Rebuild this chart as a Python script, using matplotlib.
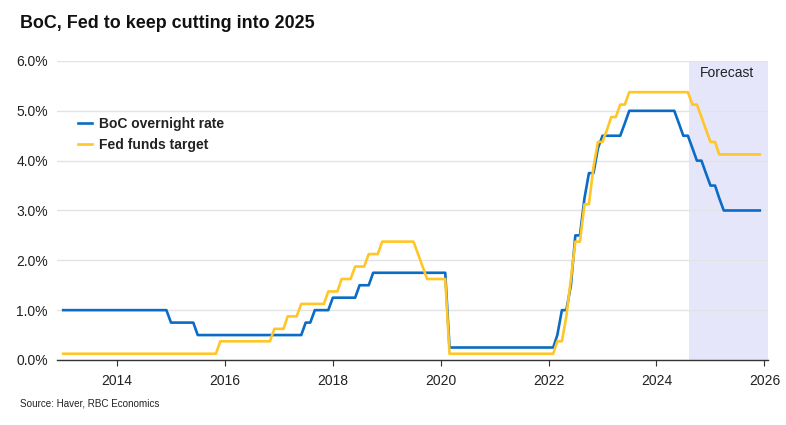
import pandas as pd
import matplotlib.pyplot as plt
import matplotlib.dates as mdates
from matplotlib.ticker import FuncFormatter

plt.rcParams['font.family'] = ['Liberation Sans', 'DejaVu Sans']

# --- dane: miesiąc zmiany stopy i nowy poziom (%) ---
boc_months = ["2013-01", "2015-01", "2015-07", "2017-07", "2017-09", "2018-01",
              "2018-07", "2018-10", "2020-03", "2022-03", "2022-04", "2022-06",
              "2022-07", "2022-09", "2022-10", "2022-12", "2023-01", "2023-06",
              "2023-07", "2024-06", "2024-07", "2024-09", "2024-10", "2024-12",
              "2025-01", "2025-03", "2025-04"]
boc_rates = [1.00, 0.75, 0.50, 0.75, 1.00, 1.25,
             1.50, 1.75, 0.25, 0.50, 1.00, 1.50,
             2.50, 3.25, 3.75, 4.25, 4.50, 4.75,
             5.00, 4.75, 4.50, 4.25, 4.00, 3.75,
             3.50, 3.25, 3.00]

fed_months = ["2013-01", "2015-12", "2016-12", "2017-03", "2017-06", "2017-12",
              "2018-03", "2018-06", "2018-09", "2018-12", "2019-08", "2019-09",
              "2019-10", "2020-03", "2022-03", "2022-05", "2022-06", "2022-07",
              "2022-09", "2022-11", "2022-12", "2023-02", "2023-03", "2023-05",
              "2023-07", "2024-09", "2024-11", "2024-12", "2025-01", "2025-03"]
fed_rates = [0.125, 0.375, 0.625, 0.875, 1.125, 1.375,
             1.625, 1.875, 2.125, 2.375, 2.125, 1.875,
             1.625, 0.125, 0.375, 0.875, 1.625, 2.375,
             3.125, 3.875, 4.375, 4.625, 4.875, 5.125,
             5.375, 5.125, 4.875, 4.625, 4.375, 4.125]

series_start, series_end = "2013-01-01", "2025-12-01"
forecast_start = "2024-08-10"
x_years = [2014, 2016, 2018, 2020, 2022, 2024, 2026]
y_ticks = [0, 1, 2, 3, 4, 5, 6]

BLUE = "#0a6cc4"
YELLOW = "#ffc627"
TXT = "#222222"

# stopy miesięczne (poziom obowiązuje do następnej zmiany)
months = pd.date_range(series_start, series_end, freq="MS")
boc = pd.Series(boc_rates, index=pd.to_datetime(boc_months)).reindex(months).ffill()
fed = pd.Series(fed_rates, index=pd.to_datetime(fed_months)).reindex(months).ffill()

fig = plt.figure(figsize=(7.86, 4.25), dpi=100)
ax = fig.add_axes([0.0725, 0.153, 0.9045, 0.7035])

ax.axvspan(pd.Timestamp(forecast_start), pd.Timestamp("2026-01-25"),
           color="#e6e6fb", lw=0, zorder=0)
ax.text(pd.Timestamp("2025-04-20"), 5.76, "Forecast", ha="center", va="center",
        fontsize=10, color=TXT)

ax.plot(boc.index, boc.values, color=BLUE, lw=1.9, label="BoC overnight rate", zorder=3)
ax.plot(fed.index, fed.values, color=YELLOW, lw=1.9, label="Fed funds target", zorder=4)

ax.set_xlim(pd.Timestamp("2012-11-20"), pd.Timestamp("2026-01-25"))
ax.set_ylim(0, 6)
ax.set_xticks([pd.Timestamp(f"{y}-01-01") for y in x_years])
ax.xaxis.set_major_formatter(mdates.DateFormatter("%Y"))
ax.set_yticks(y_ticks)
ax.yaxis.set_major_formatter(FuncFormatter(lambda v, p: f"{v:.1f}%"))

ax.grid(axis="y", color="#e3e3e3", lw=1)
ax.set_axisbelow(True)
for s in ["top", "right", "left"]:
    ax.spines[s].set_visible(False)
ax.spines["bottom"].set_color("#333333")
ax.spines["bottom"].set_linewidth(1.0)
ax.spines["bottom"].set_zorder(5)
ax.tick_params(axis="x", length=4, color="#333333", labelsize=10, labelcolor=TXT, pad=6)
ax.tick_params(axis="y", length=0, labelsize=10, labelcolor=TXT, pad=6.5)

leg = ax.legend(loc="upper left", bbox_to_anchor=(0.012, 0.855), frameon=False,
                handlelength=1.0, handletextpad=0.5, labelspacing=0.5,
                prop={"weight": "bold", "size": 10})
for t in leg.get_texts():
    t.set_color(TXT)

fig.text(0.025, 0.945, "BoC, Fed to keep cutting into 2025", fontsize=12.9,
         fontweight="bold", color="#111111", va="center")
fig.text(0.025, 0.05, "Source: Haver, RBC Economics", fontsize=7.1,
         color=TXT, va="center")

fig.savefig("out.png", dpi=100)
